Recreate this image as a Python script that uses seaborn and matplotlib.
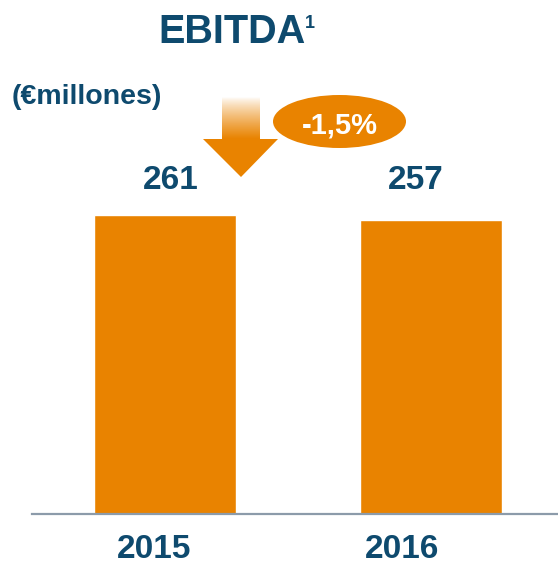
import numpy as np
import pandas as pd
import matplotlib
matplotlib.use("Agg")
import matplotlib.pyplot as plt
import seaborn as sns
from matplotlib.patches import Ellipse, Polygon
from matplotlib.colors import LinearSegmentedColormap

# datos
years = ["2015", "2016"]
ebitda = [261, 257]
change_label = "-1,5%"
title = "EBITDA"
unit_label = "(\u20acmillones)"

ORANGE = "#E98300"
BLUE = "#0E4A6E"
GREY = "#8C9BAA"

sns.set_theme(style="white")
plt.rcParams['font.family'] = ['Liberation Sans', 'DejaVu Sans']

df = pd.DataFrame({"year": years, "ebitda": ebitda})

fig = plt.figure(figsize=(5.58, 5.66), dpi=100)
ax = fig.add_axes([32 / 558, 52 / 566, 526 / 558, 514 / 566])

sns.barplot(data=df, x="year", y="ebitda", color=ORANGE, width=0.535,
            saturation=1, ax=ax)
ax.set_xlim(-0.501, 1.48)
ax.set_ylim(0, 448.7)
ax.set_xticks([])
ax.set_yticks([])
ax.set_xlabel("")
ax.set_ylabel("")
for s in ["top", "right", "left"]:
    ax.spines[s].set_visible(False)
ax.spines["bottom"].set_color(GREY)
ax.spines["bottom"].set_linewidth(1.6)

# etiquetas de valor y años
val_dx = [0.023, -0.055]
year_dx = [-0.04, -0.107]
for i, v in enumerate(ebitda):
    ax.text(i + val_dx[i], 283.7, f"{v}", ha="center", va="baseline",
            fontsize=24, fontweight="bold", color=BLUE)
    ax.text(i + year_dx[i], -44.5, years[i], ha="center", va="bottom",
            fontsize=24, fontweight="bold", color=BLUE, clip_on=False)

# capa de anotaciones en pixeles
ov = fig.add_axes([0, 0, 1, 1])
ov.set_axis_off()

grad = np.linspace(0, 1, 100) ** 0.8
cmap = LinearSegmentedColormap.from_list("wo", ["#FFFFFF", ORANGE])
ov.imshow(grad[:, None], cmap=cmap, extent=(222, 260, 139.5, 98),
          aspect="auto", origin="upper", vmin=0, vmax=1)
ov.add_patch(Polygon([(203, 139), (278, 139), (241, 177)], closed=True,
                     facecolor=ORANGE, edgecolor="none"))
ov.add_patch(Ellipse((339.5, 121.5), 133, 53, facecolor=ORANGE, edgecolor="none"))
ov.text(340, 133, change_label, ha="center", va="baseline", fontsize=21,
        fontweight="bold", color="white")

ov.text(306, 43, title, ha="right", va="baseline", fontsize=28.5,
        fontweight="bold", color=BLUE)
ov.text(305, 28, "1", ha="left", va="baseline", fontsize=13,
        fontweight="bold", color=BLUE)
ov.text(12, 104, unit_label, ha="left", va="baseline", fontsize=20.5,
        fontweight="bold", color=BLUE)

ov.set_xlim(0, 558)
ov.set_ylim(566, 0)

fig.savefig("out.png", dpi=100)
